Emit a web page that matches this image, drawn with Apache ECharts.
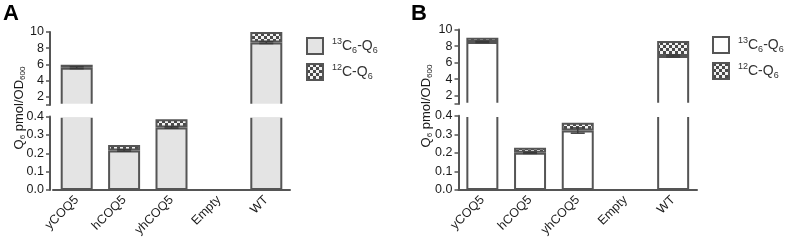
<!DOCTYPE html>
<html>
<head>
<meta charset="utf-8">
<script src="https://cdn.jsdelivr.net/npm/echarts@6/dist/echarts.min.js"></script>
<style>
  html, body { margin: 0; padding: 0; background: #fff; }
  #chart { width: 788px; height: 243px; }
</style>
</head>
<body>
<div id="chart"></div>
<script>
// categories
const cats = ['yCOQ5', 'hCOQ5', 'yhCOQ5', 'Empty', 'WT'];

// panel A (pmol/OD600)
const a13 = [5.6, 0.215, 0.34, 0, 8.7];
const a12 = [0.35, 0.03, 0.045, 0, 1.3];
const aErr = [0.12, 0.004, 0.004, 0, 0.12];

// panel B
const b13 = [8.5, 0.2, 0.32, 0, 6.8];
const b12 = [0.5, 0.028, 0.042, 0, 1.8];
const bErr = [0.08, 0.003, 0.014, 0, 0.12];

// tick labels
const upperLabels = [2, 4, 6, 8, 10];
const upperTicks = [1, 2, 4, 6, 8, 10];

const FONT = 'Liberation Sans, Arial, sans-serif';
const AX = '#555';

// checkered fill for 12C
function checker() {
  const c = document.createElement('canvas');
  c.width = 6; c.height = 6;
  const g = c.getContext('2d');
  g.fillStyle = '#f2f2f2';
  g.fillRect(0, 0, 6, 6);
  g.fillStyle = '#4a4a4a';
  g.fillRect(0, 0, 3, 3);
  g.fillRect(3, 3, 3, 3);
  return c;
}
const checkFill = { image: checker(), repeat: 'repeat' };

const chart = echarts.init(document.getElementById('chart'), null, { renderer: 'canvas' });

// grids: 0 A upper, 1 A lower, 2 B upper, 3 B lower
const grids = [
  { left: 53, top: 32, width: 237, height: 73 },
  { left: 53, top: 116.5, width: 237, height: 73.5 },
  { left: 458.5, top: 29.5, width: 238.5, height: 74.5 },
  { left: 458.5, top: 115.7, width: 238.5, height: 74.3 }
];

function xAx(gi, show) {
  return {
    type: 'category', gridIndex: gi, data: cats, show: show,
    axisLine: { lineStyle: { color: AX, width: 2 } },
    axisTick: { alignWithLabel: true, length: 4, lineStyle: { color: AX, width: 1.5 } },
    axisLabel: { rotate: 45, margin: 8, fontSize: 12.5, color: '#1a1a1a', fontFamily: FONT }
  };
}
function yUpper(gi, off) {
  return {
    type: 'value', gridIndex: gi, min: 1, max: 10, offset: off,
    axisLine: { show: true, lineStyle: { color: AX, width: 2 } },
    axisTick: { show: true, length: 4, customValues: upperTicks, lineStyle: { color: AX, width: 1.5 } },
    axisLabel: { customValues: upperLabels, margin: 6, fontSize: 12.5, color: '#1a1a1a', fontFamily: FONT },
    splitLine: { show: false }
  };
}
function yLower(gi, off) {
  return {
    type: 'value', gridIndex: gi, min: 0, max: 0.4, interval: 0.1, offset: off,
    axisLine: { show: true, lineStyle: { color: AX, width: 2 } },
    axisTick: { show: true, length: 4, lineStyle: { color: AX, width: 1.5 } },
    axisLabel: { margin: 6, fontSize: 12.5, color: '#1a1a1a', fontFamily: FONT,
      formatter: v => v.toFixed(1) },
    splitLine: { show: false }
  };
}

function bar(name, gi, stack, data, fill) {
  return {
    name: name, type: 'bar', xAxisIndex: gi, yAxisIndex: gi, stack: stack,
    data: data, barWidth: 32, clip: true,
    itemStyle: { color: fill, borderColor: AX, borderWidth: 2 },
    emphasis: { disabled: true }, animation: false
  };
}

function errItem(params, api) {
  const e = api.value(2);
  if (!e) return;
  const cs = params.coordSys;
  const i = api.value(0), v = api.value(1);
  const mid = api.coord([i, v]);
  if (mid[1] < cs.y || mid[1] > cs.y + cs.height) return;
  const top = api.coord([i, v + e]);
  const bot = api.coord([i, v - e]);
  const hw = 7;
  const st = { stroke: '#3a3a3a', lineWidth: 1.5 };
  return {
    type: 'group', children: [
      { type: 'line', shape: { x1: mid[0], y1: top[1], x2: mid[0], y2: bot[1] }, style: st },
      { type: 'line', shape: { x1: mid[0] - hw, y1: top[1], x2: mid[0] + hw, y2: top[1] }, style: st },
      { type: 'line', shape: { x1: mid[0] - hw, y1: bot[1], x2: mid[0] + hw, y2: bot[1] }, style: st }
    ]
  };
}
function errSeries(gi, vals, errs) {
  return {
    type: 'custom', xAxisIndex: gi, yAxisIndex: gi, z: 3,
    data: cats.map((c, i) => [i, vals[i], errs[i]]),
    renderItem: errItem, silent: true, animation: false
  };
}

const series = [];
[[0, 'AU'], [1, 'AL']].forEach(([gi, st]) => {
  series.push(bar('A13', gi, st, a13, '#e4e4e4'));
  series.push(bar('A12', gi, st, a12, checkFill));
  series.push(errSeries(gi, a13, aErr));
});
[[2, 'BU'], [3, 'BL']].forEach(([gi, st]) => {
  series.push(bar('B13', gi, st, b13, '#ffffff'));
  series.push(bar('B12', gi, st, b12, checkFill));
  series.push(errSeries(gi, b13, bErr));
});

const legendRich = {
  m: { fontSize: 14, fontFamily: FONT, color: '#333', lineHeight: 18, verticalAlign: 'middle' },
  sup: { fontSize: 9, fontFamily: FONT, color: '#333', lineHeight: 10, verticalAlign: 'top' },
  sub: { fontSize: 9, fontFamily: FONT, color: '#333', lineHeight: 10, verticalAlign: 'bottom' }
};
const legendText = {
  A13: '{sup|13}{m|C}{sub|6}{m|-Q}{sub|6}', B13: '{sup|13}{m|C}{sub|6}{m|-Q}{sub|6}',
  A12: '{sup|12}{m|C-Q}{sub|6}', B12: '{sup|12}{m|C-Q}{sub|6}'
};
function legend(names, left, top) {
  return {
    data: names, left: left, top: top, orient: 'vertical', itemWidth: 16, itemHeight: 16, itemGap: 8,
    icon: 'rect', selectedMode: false,
    itemStyle: { borderColor: AX, borderWidth: 2 },
    formatter: n => legendText[n],
    textStyle: { rich: legendRich, padding: [0, 0, 0, 4] }
  };
}

const titleRich = {
  m: { fontSize: 13, fontFamily: FONT, fill: '#1a1a1a', lineHeight: 16, verticalAlign: 'middle' },
  sub: { fontSize: 8, fontFamily: FONT, fill: '#1a1a1a', lineHeight: 8, verticalAlign: 'bottom' }
};
function yTitle(x, y) {
  return {
    type: 'text', x: x, y: y, rotation: Math.PI / 2, z: 10,
    style: { text: '{m|Q}{sub|6}{m| pmol/OD}{sub|600}', rich: titleRich, align: 'center', verticalAlign: 'middle' }
  };
}
function mask(g0, g1) {
  const x = g0.left + 2;
  return {
    type: 'rect', z: 100,
    shape: { x: x, y: g0.top + g0.height - 1.3, width: g0.width - 2, height: g1.top - (g0.top + g0.height) + 2.6 },
    style: { fill: '#fff' }
  };
}

chart.setOption({
  backgroundColor: '#fff',
  animation: false,
  grid: grids,
  xAxis: [xAx(0, false), xAx(1, true), xAx(2, false), xAx(3, true)],
  yAxis: [yUpper(0, 3), yLower(1, 3), yUpper(2, 0), yLower(3, 0)],
  legend: [legend(['A13', 'A12'], 301, 32), legend(['B13', 'B12'], 707, 31)],
  series: series,
  graphic: [
    mask(grids[0], grids[1]),
    mask(grids[2], grids[3]),
    yTitle(19, 108),
    yTitle(426, 106),
    { type: 'text', x: 3, y: 3, z: 10, style: { text: 'A', font: 'bold 22px ' + FONT, fill: '#000' } },
    { type: 'text', x: 411, y: 3, z: 10, style: { text: 'B', font: 'bold 22px ' + FONT, fill: '#000' } }
  ]
});
</script>
</body>
</html>
